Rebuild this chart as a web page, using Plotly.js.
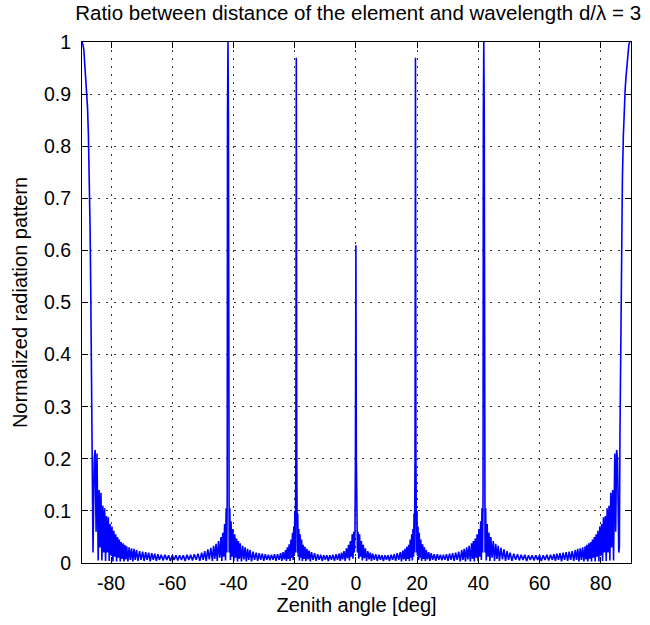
<!DOCTYPE html>
<html>
<head>
<meta charset="utf-8">
<script src="https://cdn.plot.ly/plotly-3.0.1.min.js"></script>
<style>
  html, body { margin: 0; padding: 0; background: #fff; }
  #chart { width: 650px; height: 625px; }
</style>
</head>
<body>
<div id="chart"></div>
<script>
// Array factor of a uniform linear array, d/lambda = 3 (grating lobes at 0, ±19.47, ±41.8, ±90 deg)

// Negative zenith angles [deg]
const angleLeft = [
  -89.5, -89.2, -88.9, -88.6, -88.3, -88.0, -87.7, -87.4, -87.1, -86.85,
  -86.65, -86.45, -86.3, -86.1, -85.9, -85.5, -85.2, -84.9, -84.6, -84.2,
  -83.9, -83.6, -83.3, -83.0, -82.7, -82.4, -82.1, -81.8, -81.5, -81.2,
  -80.9, -80.6, -80.3, -80.0, -79.7, -79.4, -79.1, -78.8, -78.5, -78.2,
  -77.9, -77.6, -77.3, -77.0, -76.7, -76.4, -76.1, -75.8, -75.5, -75.2,
  -74.9, -74.5, -74.1, -73.7, -73.3, -72.9, -72.5, -72.1, -71.7, -71.2,
  -70.7, -70.2, -69.7, -69.2, -68.7, -68.2, -67.7, -67.2, -66.7, -66.2,
  -65.7, -65.2, -64.7, -64.2, -63.6, -63.0, -62.4, -61.8, -61.2, -60.6,
  -60.0, -59.4, -58.8, -58.2, -57.6, -57.0, -56.4, -55.8, -55.2, -54.6,
  -54.0, -53.4, -52.8, -52.2, -51.6, -51.0, -50.4, -49.9, -49.4, -48.9,
  -48.4, -47.9, -47.4, -46.9, -46.5, -46.1, -45.7, -45.3, -44.9, -44.5,
  -44.1, -43.8, -43.5, -43.2, -42.9, -42.6, -42.4, -42.2, -42.05, -41.95,
  -41.8, -41.65, -41.55, -41.4, -41.2, -41.0, -40.8, -40.5, -40.2, -39.9,
  -39.6, -39.3, -39.0, -38.7, -38.4, -38.1, -37.8, -37.4, -37.0, -36.6,
  -36.2, -35.8, -35.4, -35.0, -34.6, -34.1, -33.6, -33.1, -32.6, -32.1,
  -31.6, -31.1, -30.6, -30.1, -29.6, -29.1, -28.6, -28.1, -27.6, -27.1,
  -26.6, -26.1, -25.6, -25.1, -24.6, -24.2, -23.8, -23.4, -23.0, -22.7,
  -22.4, -22.1, -21.8, -21.5, -21.2, -20.95, -20.7, -20.5, -20.3, -20.1,
  -19.95, -19.8, -19.62, -19.47, -19.32, -19.15, -19.0, -18.85, -18.65, -18.45,
  -18.25, -18.0, -17.75, -17.5, -17.25, -16.95, -16.65, -16.35, -16.0, -15.65,
  -15.3, -14.9, -14.5, -14.0, -13.5, -13.0, -12.5, -12.0, -11.5, -11.0,
  -10.5, -10.0, -9.5, -9.0, -8.5, -8.0, -7.5, -7.0, -6.5, -6.0,
  -5.5, -5.1, -4.7, -4.3, -3.9, -3.5, -3.1, -2.75, -2.4, -2.1,
  -1.8, -1.5, -1.2, -0.95, -0.7, -0.5, -0.3, -0.15, 0
];
const patternLeft = [
  1.0, 0.995, 0.985, 0.96, 0.935, 0.91, 0.875, 0.82, 0.74, 0.64,
  0.53, 0.38, 0.25, 0.03, 0.02, 0.2, 0.217, 0.06, 0.21, 0.005,
  0.14, 0.03, 0.135, 0.005, 0.11, 0.02, 0.105, 0.004, 0.09, 0.02,
  0.088, 0.004, 0.075, 0.015, 0.07, 0.003, 0.062, 0.012, 0.055, 0.003,
  0.05, 0.01, 0.045, 0.003, 0.04, 0.008, 0.038, 0.003, 0.035, 0.007,
  0.032, 0.003, 0.03, 0.006, 0.028, 0.003, 0.027, 0.006, 0.025, 0.004,
  0.023, 0.006, 0.022, 0.004, 0.021, 0.006, 0.02, 0.003, 0.019, 0.006,
  0.018, 0.004, 0.017, 0.006, 0.016, 0.005, 0.016, 0.006, 0.015, 0.004,
  0.015, 0.006, 0.015, 0.005, 0.015, 0.006, 0.015, 0.004, 0.016, 0.006,
  0.016, 0.005, 0.017, 0.006, 0.018, 0.004, 0.02, 0.006, 0.023, 0.004,
  0.026, 0.007, 0.029, 0.004, 0.033, 0.008, 0.037, 0.004, 0.042, 0.01,
  0.05, 0.004, 0.058, 0.012, 0.075, 0.005, 0.105, 0.02, 0.127, 0.86,
  1.0, 0.86, 0.125, 0.02, 0.105, 0.006, 0.08, 0.012, 0.065, 0.004,
  0.055, 0.01, 0.047, 0.003, 0.042, 0.008, 0.038, 0.003, 0.033, 0.007,
  0.03, 0.003, 0.027, 0.006, 0.025, 0.003, 0.022, 0.006, 0.02, 0.004,
  0.019, 0.006, 0.018, 0.004, 0.017, 0.006, 0.016, 0.005, 0.016, 0.006,
  0.017, 0.004, 0.017, 0.006, 0.019, 0.004, 0.021, 0.007, 0.025, 0.004,
  0.03, 0.008, 0.036, 0.004, 0.045, 0.01, 0.058, 0.006, 0.07, 0.015,
  0.1, 0.02, 0.21, 0.97, 0.2, 0.02, 0.095, 0.012, 0.065, 0.005,
  0.055, 0.01, 0.045, 0.004, 0.035, 0.008, 0.031, 0.004, 0.027, 0.007,
  0.024, 0.003, 0.021, 0.006, 0.019, 0.004, 0.017, 0.006, 0.016, 0.004,
  0.015, 0.006, 0.015, 0.004, 0.015, 0.006, 0.016, 0.004, 0.017, 0.006,
  0.018, 0.004, 0.02, 0.007, 0.023, 0.004, 0.028, 0.009, 0.035, 0.005,
  0.042, 0.012, 0.055, 0.008, 0.06, 0.02, 0.06, 0.2, 0.61
];

// Positive zenith angles [deg]
const angleRight = [
  0.15, 0.3, 0.5, 0.7, 0.95, 1.2, 1.5, 1.8,
  2.1, 2.4, 2.75, 3.1, 3.5, 3.9, 4.3, 4.7, 5.1, 5.5,
  6.0, 6.5, 7.0, 7.5, 8.0, 8.5, 9.0, 9.5, 10.0, 10.5,
  11.0, 11.5, 12.0, 12.5, 13.0, 13.5, 14.0, 14.5, 14.9, 15.3,
  15.65, 16.0, 16.35, 16.65, 16.95, 17.25, 17.5, 17.75, 18.0, 18.25,
  18.45, 18.65, 18.85, 19.0, 19.15, 19.32, 19.47, 19.62, 19.8, 19.95,
  20.1, 20.3, 20.5, 20.7, 20.95, 21.2, 21.5, 21.8, 22.1, 22.4,
  22.7, 23.0, 23.4, 23.8, 24.2, 24.6, 25.1, 25.6, 26.1, 26.6,
  27.1, 27.6, 28.1, 28.6, 29.1, 29.6, 30.1, 30.6, 31.1, 31.6,
  32.1, 32.6, 33.1, 33.6, 34.1, 34.6, 35.0, 35.4, 35.8, 36.2,
  36.6, 37.0, 37.4, 37.8, 38.1, 38.4, 38.7, 39.0, 39.3, 39.6,
  39.9, 40.2, 40.5, 40.8, 41.0, 41.2, 41.4, 41.55, 41.65, 41.8,
  41.95, 42.05, 42.2, 42.4, 42.6, 42.9, 43.2, 43.5, 43.8, 44.1,
  44.5, 44.9, 45.3, 45.7, 46.1, 46.5, 46.9, 47.4, 47.9, 48.4,
  48.9, 49.4, 49.9, 50.4, 51.0, 51.6, 52.2, 52.8, 53.4, 54.0,
  54.6, 55.2, 55.8, 56.4, 57.0, 57.6, 58.2, 58.8, 59.4, 60.0,
  60.6, 61.2, 61.8, 62.4, 63.0, 63.6, 64.2, 64.7, 65.2, 65.7,
  66.2, 66.7, 67.2, 67.7, 68.2, 68.7, 69.2, 69.7, 70.2, 70.7,
  71.2, 71.7, 72.1, 72.5, 72.9, 73.3, 73.7, 74.1, 74.5, 74.9,
  75.2, 75.5, 75.8, 76.1, 76.4, 76.7, 77.0, 77.3, 77.6, 77.9,
  78.2, 78.5, 78.8, 79.1, 79.4, 79.7, 80.0, 80.3, 80.6, 80.9,
  81.2, 81.5, 81.8, 82.1, 82.4, 82.7, 83.0, 83.3, 83.6, 83.9,
  84.2, 84.6, 84.9, 85.2, 85.5, 85.9, 86.1, 86.3, 86.45, 86.65,
  86.85, 87.1, 87.4, 87.7, 88.0, 88.3, 88.6, 88.9, 89.2, 89.5
];
const patternRight = [
  0.2, 0.06, 0.02, 0.06, 0.008, 0.055, 0.012, 0.042,
  0.005, 0.035, 0.009, 0.028, 0.004, 0.023, 0.007, 0.02, 0.004, 0.018,
  0.006, 0.017, 0.004, 0.016, 0.006, 0.015, 0.004, 0.015, 0.006, 0.015,
  0.004, 0.016, 0.006, 0.017, 0.004, 0.019, 0.006, 0.021, 0.003, 0.024,
  0.007, 0.027, 0.004, 0.031, 0.008, 0.035, 0.004, 0.045, 0.01, 0.055,
  0.005, 0.065, 0.012, 0.095, 0.02, 0.2, 0.97, 0.21, 0.02, 0.1,
  0.015, 0.07, 0.006, 0.058, 0.01, 0.045, 0.004, 0.036, 0.008, 0.03,
  0.004, 0.025, 0.007, 0.021, 0.004, 0.019, 0.006, 0.017, 0.004, 0.017,
  0.006, 0.016, 0.005, 0.016, 0.006, 0.017, 0.004, 0.018, 0.006, 0.019,
  0.004, 0.02, 0.006, 0.022, 0.003, 0.025, 0.006, 0.027, 0.003, 0.03,
  0.007, 0.033, 0.003, 0.038, 0.008, 0.042, 0.003, 0.047, 0.01, 0.055,
  0.004, 0.065, 0.012, 0.08, 0.006, 0.105, 0.02, 0.125, 0.86, 1.0,
  0.86, 0.127, 0.02, 0.105, 0.005, 0.075, 0.012, 0.058, 0.004, 0.05,
  0.01, 0.042, 0.004, 0.037, 0.008, 0.033, 0.004, 0.029, 0.007, 0.026,
  0.004, 0.023, 0.006, 0.02, 0.004, 0.018, 0.006, 0.017, 0.005, 0.016,
  0.006, 0.016, 0.004, 0.015, 0.006, 0.015, 0.005, 0.015, 0.006, 0.015,
  0.004, 0.015, 0.006, 0.016, 0.005, 0.016, 0.006, 0.017, 0.004, 0.018,
  0.006, 0.019, 0.003, 0.02, 0.006, 0.021, 0.004, 0.022, 0.006, 0.023,
  0.004, 0.025, 0.006, 0.027, 0.003, 0.028, 0.006, 0.03, 0.003, 0.032,
  0.007, 0.035, 0.003, 0.038, 0.008, 0.04, 0.003, 0.045, 0.01, 0.05,
  0.003, 0.055, 0.012, 0.062, 0.003, 0.07, 0.015, 0.075, 0.004, 0.088,
  0.02, 0.09, 0.004, 0.105, 0.02, 0.11, 0.005, 0.135, 0.03, 0.14,
  0.005, 0.21, 0.06, 0.217, 0.2, 0.02, 0.03, 0.25, 0.38, 0.53,
  0.64, 0.74, 0.82, 0.875, 0.91, 0.935, 0.96, 0.985, 0.995, 1.0
];

// Axis ticks
const xTickVals = [-80, -60, -40, -20, 0, 20, 40, 60, 80];
const xTickText = ['-80', '-60', '-40', '-20', '0', '20', '40', '60', '80'];
const yTickVals = [0, 0.1, 0.2, 0.3, 0.4, 0.5, 0.6, 0.7, 0.8, 0.9, 1];
const yTickText = ['0', '0.1', '0.2', '0.3', '0.4', '0.5', '0.6', '0.7', '0.8', '0.9', '1'];

const FONT = 'Liberation Sans, Arial, Helvetica, sans-serif';
const TEXT_SIZE = 20;

const trace = {
  type: 'scatter',
  mode: 'lines',
  x: angleLeft.concat(angleRight),
  y: patternLeft.concat(patternRight),
  line: { color: '#0000ff', width: 1.6 },
  hoverinfo: 'x+y'
};

const axisCommon = {
  showline: true,
  linecolor: '#000',
  linewidth: 1,
  mirror: 'ticks',
  ticks: 'inside',
  ticklen: 6,
  tickwidth: 1,
  tickcolor: '#000',
  showgrid: true,
  gridcolor: '#333',
  gridwidth: 1,
  griddash: '1.5px,6.5px',
  zeroline: false,
  tickfont: { family: FONT, size: 19.5, color: '#000' },
  tickmode: 'array'
};

const layout = {
  width: 650,
  height: 625,
  margin: { l: 82, r: 19, t: 42, b: 62, pad: 0 },
  paper_bgcolor: '#ffffff',
  plot_bgcolor: '#ffffff',
  showlegend: false,
  font: { family: FONT, size: TEXT_SIZE, color: '#000' },
  title: {
    text: 'Ratio between distance of the element and wavelength d/λ = 3',
    font: { family: FONT, size: 20.5, color: '#000' },
    xref: 'container', x: 0.551, xanchor: 'center',
    yref: 'container', y: 0.98, yanchor: 'middle'
  },
  xaxis: Object.assign({}, axisCommon, {
    range: [-89.5, 89.9],
    tickvals: xTickVals,
    ticktext: xTickText,
    ticklabelstandoff: 3,
    title: { text: 'Zenith angle [deg]', font: { family: FONT, size: TEXT_SIZE, color: '#000' }, standoff: 4 }
  }),
  yaxis: Object.assign({}, axisCommon, {
    range: [0, 1],
    tickvals: yTickVals,
    ticktext: yTickText,
    ticklabelstandoff: 6,
    title: { text: 'Normalized radiation pattern', font: { family: FONT, size: TEXT_SIZE, color: '#000' }, standoff: 10 }
  })
};

Plotly.newPlot('chart', [trace], layout, { displayModeBar: false, staticPlot: true });
</script>
</body>
</html>
